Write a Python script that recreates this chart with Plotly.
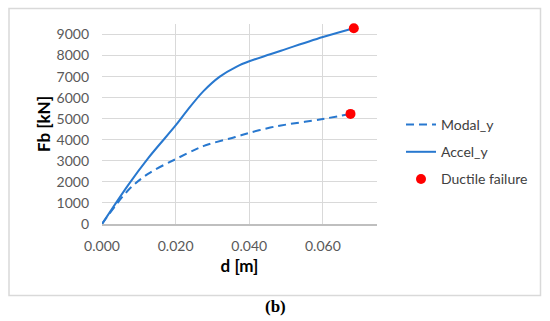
import plotly.graph_objects as go

# Data
modal_d = [0.0, 0.0071, 0.0125, 0.020, 0.0253, 0.0275, 0.030, 0.0362, 0.040, 0.0457, 0.0486, 0.060, 0.0675]
modal_f = [0, 1600, 2380, 3080, 3530, 3700, 3840, 4130, 4330, 4580, 4680, 4990, 5230]
accel_d = [0.0, 0.0071, 0.0125, 0.020, 0.023, 0.0275, 0.032, 0.0366, 0.040, 0.0457, 0.0486, 0.060, 0.0684]
accel_f = [0, 1850, 3120, 4680, 5360, 6300, 7000, 7480, 7730, 8060, 8230, 8880, 9300]
fail_d = [0.0684, 0.0675]
fail_f = [9300, 5230]

x_ticks = [0.0, 0.02, 0.04, 0.06]
x_tick_labels = ["0.000", "0.020", "0.040", "0.060"]
y_ticks = [0, 1000, 2000, 3000, 4000, 5000, 6000, 7000, 8000, 9000]

BLUE = "#2878CF"
GRID = "#d9d9d9"
TXT = "#595959"
FONT = "Lato"

fig = go.Figure()
fig.add_trace(go.Scatter(x=modal_d, y=modal_f, mode="lines", name="Modal_y",
                         legendgroup="a",
                         line=dict(color=BLUE, width=2, dash="8px,5px", shape="spline", smoothing=1.0)))
fig.add_trace(go.Scatter(x=accel_d, y=accel_f, mode="lines", name="Accel_y",
                         legendgroup="b",
                         line=dict(color=BLUE, width=2, shape="spline", smoothing=1.0)))
fig.add_trace(go.Scatter(x=fail_d, y=fail_f, mode="markers", name="Ductile failure",
                         legendgroup="c", cliponaxis=False,
                         marker=dict(color="#ff0000", size=10)))

L, R, T, B = 102, 173, 24, 97
W, H = 550 - L - R, 321 - T - B

def px(x):
    return (x - L) / W

def py(y):
    return (321 - B - y) / H

fig.update_layout(
    width=550, height=321,
    margin=dict(l=L, r=R, t=T, b=B, autoexpand=False),
    paper_bgcolor="white", plot_bgcolor="white",
    font=dict(family=FONT, color=TXT, size=14),
    showlegend=True,
    legend=dict(x=px(401), y=py(109), xanchor="left", yanchor="top",
                traceorder="grouped", tracegroupgap=6,
                font=dict(family=FONT, size=14, color="#404040"),
                bgcolor="rgba(0,0,0,0)"),
    xaxis=dict(range=[0, 0.0747], tickvals=x_ticks, ticktext=x_tick_labels,
               showgrid=True, gridcolor=GRID, gridwidth=1, zeroline=False,
               showline=True, linecolor="#bfbfbf", linewidth=1.5,
               ticks="", ticklabelstandoff=8, automargin=False,
               tickfont=dict(family=FONT, size=14, color=TXT),
               title=dict(text="<b>d [m]</b>", standoff=8,
                          font=dict(family=FONT, size=17, color="#000000"))),
    yaxis=dict(range=[0, 9500], tickvals=y_ticks,
               showgrid=True, gridcolor=GRID, gridwidth=1, zeroline=False,
               showline=False, ticks="", ticklabelstandoff=12, automargin=False,
               tickfont=dict(family=FONT, size=14, color=TXT),
               title=dict(text="<b>Fb [kN]</b>", standoff=1,
                          font=dict(family=FONT, size=17, color="#000000"))),
    shapes=[dict(type="rect", xref="paper", yref="paper",
                 x0=px(9), x1=px(540.5), y0=py(295.5), y1=py(8.5),
                 line=dict(color="#d9d9d9", width=1.5), fillcolor="rgba(0,0,0,0)",
                 layer="below")],
    annotations=[dict(text="<b>(b)</b>", xref="paper", yref="paper",
                      x=px(275), y=py(306), xanchor="center", yanchor="middle",
                      showarrow=False,
                      font=dict(family="Liberation Serif", size=17, color="#000000"))],
)

fig.write_html("out.html", config={"displayModeBar": False},
               post_script="document.body.style.margin='0';document.body.style.overflow='hidden';")
